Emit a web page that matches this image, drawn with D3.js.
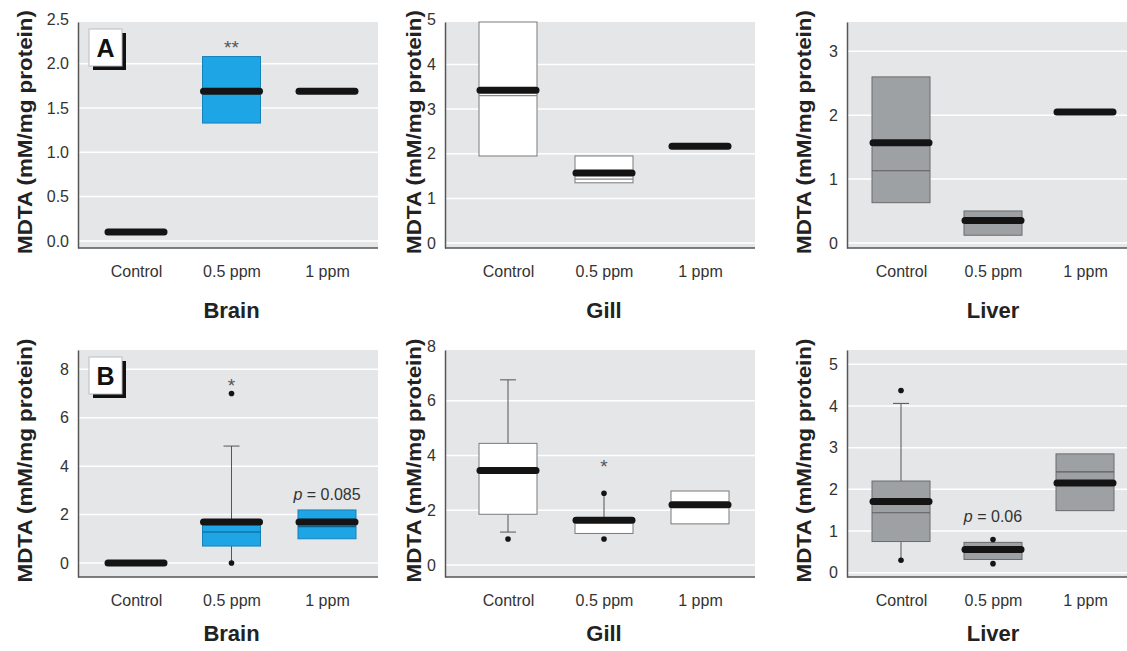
<!DOCTYPE html>
<html>
<head>
<meta charset="utf-8">
<script src="https://cdn.jsdelivr.net/npm/d3@7"></script>
<style>
  body { margin: 0; background: #fff; }
  svg { display: block; font-family: "Liberation Sans", Arial, sans-serif; }
</style>
</head>
<body>
<div id="chart"></div>
<script>
const groups = ["Control", "0.5 ppm", "1 ppm"]
const tissues = ["Brain", "Gill", "Liver"]
const panelLetters = ["A", "B"]

// panels in order: A Brain, A Gill, A Liver, B Brain, B Gill, B Liver
const yDomains = [[-0.08, 2.47], [-0.11, 4.95], [-0.08, 3.46], [-0.58, 8.8], [-0.44, 7.85], [-0.1, 5.34]]
const yTicks = [[0, 0.5, 1, 1.5, 2, 2.5], [0, 1, 2, 3, 4, 5], [0, 1, 2, 3], [0, 2, 4, 6, 8], [0, 2, 4, 6, 8], [0, 1, 2, 3, 4, 5]]

const boxLow = [
    [null, 1.33, null],
    [1.95, 1.35, null],
    [0.63, 0.12, null],
    [null, 0.70, 1.00],
    [1.85, 1.15, 1.50],
    [0.75, 0.32, 1.49]
]
const boxHigh = [
    [null, 2.08, null],
    [4.95, 1.95, null],
    [2.60, 0.50, null],
    [null, 1.75, 2.19],
    [4.44, 1.70, 2.70],
    [2.20, 0.73, 2.85]
]
const medians = [
    [0.10, 1.69, 1.69],
    [3.42, 1.57, 2.17],
    [1.57, 0.35, 2.05],
    [0.00, 1.69, 1.69],
    [3.45, 1.63, 2.20],
    [1.71, 0.56, 2.15]
]
// thin line inside the box
const innerLines = [
    [null, null, null],
    [3.30, 1.43, null],
    [1.13, null, null],
    [null, 1.28, 1.50],
    [null, null, null],
    [1.44, null, 2.42]
]
const whiskerLow = [
    [null, null, null],
    [null, null, null],
    [null, null, null],
    [null, 0.00, null],
    [1.20, null, null],
    [0.30, null, null]
]
const whiskerHigh = [
    [null, null, null],
    [null, null, null],
    [null, null, null],
    [null, 4.83, null],
    [6.76, 2.60, null],
    [4.06, null, null]
]
const outliers = [
    [[], [], []],
    [[], [], []],
    [[], [], []],
    [[], [0.0, 7.0], []],
    [[0.95], [2.62, 0.95], []],
    [[4.37, 0.30], [0.80, 0.22], []]
]
// [panel, group, text, value]
const notes = [
    [0, 1, "**", 2.23],
    [3, 1, "*", 7.52],
    [4, 1, "*", 3.75],
    [3, 2, "p = 0.085", 2.85],
    [5, 1, "p = 0.06", 1.37]
]

// layout
const colLeft = [78, 445, 847]
const colRight = [378, 755, 1127]
const colCenters = [[136, 327], [508, 700], [901, 1085]]
const titleX = [25, 414, 804]
const rowTop = [22, 350]
const rowBottom = [248, 577]
const rowTitleY = [318, 641]
const boxFill = ["#1ea5e6", "#ffffff", "#9ea1a4"]
const boxStroke = ["#1680b8", "#7a7a7a", "#6a6a6a"]
const innerStroke = ["#0d5f8c", "#8a8a8a", "#5e5e5e"]
const BOX_HALF = 29

const svg = d3.select("#chart")
    .append("svg")
        .attr("width", 1127)
        .attr("height", 651)

d3.range(6).forEach(p => {
    const row = Math.floor(p / 3)
    const col = p % 3
    const left = colLeft[col], right = colRight[col]
    const top = rowTop[row], bottom = rowBottom[row]

    const y = d3.scaleLinear().domain(yDomains[p]).range([bottom, top])
    const x = d3.scalePoint().domain(groups).range(colCenters[col])

    const g = svg.append("g")

    // plot background
    g.append("rect")
        .attr("x", left).attr("y", top)
        .attr("width", right - left).attr("height", bottom - top)
        .attr("fill", "#e5e6e8")

    // gridlines
    g.selectAll(".grid")
        .data(yTicks[p].filter(t => t >= yDomains[p][0] && t <= yDomains[p][1]))
        .enter().append("line")
            .attr("x1", left).attr("x2", right)
            .attr("y1", d => y(d)).attr("y2", d => y(d))
            .attr("stroke", "#fff")
            .attr("stroke-width", 1.5)

    // y axis
    const yAxis = d3.axisLeft(y)
        .tickValues(yTicks[p])
        .tickFormat(p === 0 ? d3.format(".1f") : d3.format("d"))
        .tickSize(0)
        .tickSizeOuter(0)
        .tickPadding(9)
    const yg = g.append("g").attr("transform", `translate(${left},0)`).call(yAxis)
    yg.select(".domain").attr("stroke", "#555").attr("stroke-width", 1.5)
    yg.selectAll("text").attr("font-size", 16).attr("fill", "#333")
        .attr("font-family", "inherit")

    // bottom axis line
    g.append("line")
        .attr("x1", left).attr("x2", right)
        .attr("y1", bottom).attr("y2", bottom)
        .attr("stroke", "#555").attr("stroke-width", 1.5)

    const xAxis = d3.axisBottom(x).tickSize(0).tickPadding(18)
    const xg = g.append("g").attr("transform", `translate(0,${bottom})`).call(xAxis)
    xg.select(".domain").remove()
    xg.selectAll("text").attr("font-size", 16).attr("fill", "#333")
        .attr("font-family", "inherit")

    // boxes
    groups.forEach((grp, i) => {
        const cx = x(grp)
        const lo = boxLow[p][i], hi = boxHigh[p][i]
        const med = medians[p][i]
        const wl = whiskerLow[p][i], wh = whiskerHigh[p][i]
        const outs = outliers[p][i]
        const near = v => outs.some(o => Math.abs(o - v) < 0.1)

        if (wh !== null) {
            g.append("line")
                .attr("x1", cx).attr("x2", cx)
                .attr("y1", y(hi !== null ? hi : med)).attr("y2", y(wh))
                .attr("stroke", "#555").attr("stroke-width", 1)
            if (!near(wh)) {
                g.append("line")
                    .attr("x1", cx - 8).attr("x2", cx + 8)
                    .attr("y1", y(wh)).attr("y2", y(wh))
                    .attr("stroke", "#555").attr("stroke-width", 1)
            }
        }
        if (wl !== null) {
            g.append("line")
                .attr("x1", cx).attr("x2", cx)
                .attr("y1", y(lo !== null ? lo : med)).attr("y2", y(wl))
                .attr("stroke", "#555").attr("stroke-width", 1)
            if (!near(wl)) {
                g.append("line")
                    .attr("x1", cx - 8).attr("x2", cx + 8)
                    .attr("y1", y(wl)).attr("y2", y(wl))
                    .attr("stroke", "#555").attr("stroke-width", 1)
            }
        }

        if (lo !== null) {
            g.append("rect")
                .attr("x", cx - BOX_HALF).attr("width", BOX_HALF * 2)
                .attr("y", y(hi)).attr("height", y(lo) - y(hi))
                .attr("fill", boxFill[col])
                .attr("stroke", boxStroke[col])
                .attr("stroke-width", 1)
        }
        if (innerLines[p][i] !== null) {
            g.append("line")
                .attr("x1", cx - BOX_HALF).attr("x2", cx + BOX_HALF)
                .attr("y1", y(innerLines[p][i])).attr("y2", y(innerLines[p][i]))
                .attr("stroke", innerStroke[col]).attr("stroke-width", 1.2)
        }

        g.append("line")
            .attr("x1", cx - 28).attr("x2", cx + 28)
            .attr("y1", y(med)).attr("y2", y(med))
            .attr("stroke", "#141414")
            .attr("stroke-width", 7)
            .attr("stroke-linecap", "round")

        g.selectAll(null)
            .data(outs)
            .enter().append("circle")
                .attr("cx", cx).attr("cy", d => y(d))
                .attr("r", 2.8)
                .attr("fill", "#141414")
    })

    // notes
    notes.filter(n => n[0] === p).forEach(n => {
        const t = g.append("text")
            .attr("x", x(groups[n[1]]))
            .attr("y", y(n[3]))
            .attr("text-anchor", "middle")
        if (n[2].startsWith("p")) {
            t.attr("dominant-baseline", "central").attr("fill", "#333").attr("font-size", 16)
            t.append("tspan").attr("font-style", "italic").text("p")
            t.append("tspan").text(n[2].slice(1))
        } else {
            t.attr("dy", "0.58em").attr("fill", "#555").attr("font-size", 19).text(n[2])
        }
    })

    // y axis title
    const ty = (top + bottom) / 2 - 3
    g.append("text")
        .attr("transform", `translate(${titleX[col]},${ty}) rotate(-90)`)
        .attr("text-anchor", "middle")
        .attr("dominant-baseline", "central")
        .attr("font-size", 20)
        .attr("font-weight", "bold")
        .attr("fill", "#222")
        .attr("textLength", 244)
        .attr("lengthAdjust", "spacingAndGlyphs")
        .text("MDTA (mM/mg protein)")

    // tissue title
    g.append("text")
        .attr("x", x(groups[1]))
        .attr("y", rowTitleY[row])
        .attr("text-anchor", "middle")
        .attr("font-size", 22)
        .attr("font-weight", "bold")
        .attr("fill", "#222")
        .text(tissues[col])

    // panel letter
    if (col === 0) {
        const bx = 89, by = top + 7
        g.append("rect")
            .attr("x", bx + 4).attr("y", by + 4)
            .attr("width", 33).attr("height", 37)
            .attr("fill", "#111")
        g.append("rect")
            .attr("x", bx).attr("y", by)
            .attr("width", 33).attr("height", 37)
            .attr("fill", "#fff")
            .attr("stroke", "#bbb")
        g.append("text")
            .attr("x", bx + 16.5).attr("y", by + 28)
            .attr("text-anchor", "middle")
            .attr("font-size", 25)
            .attr("font-weight", "bold")
            .attr("fill", "#111")
            .text(panelLetters[row])
    }
})
</script>
</body>
</html>
